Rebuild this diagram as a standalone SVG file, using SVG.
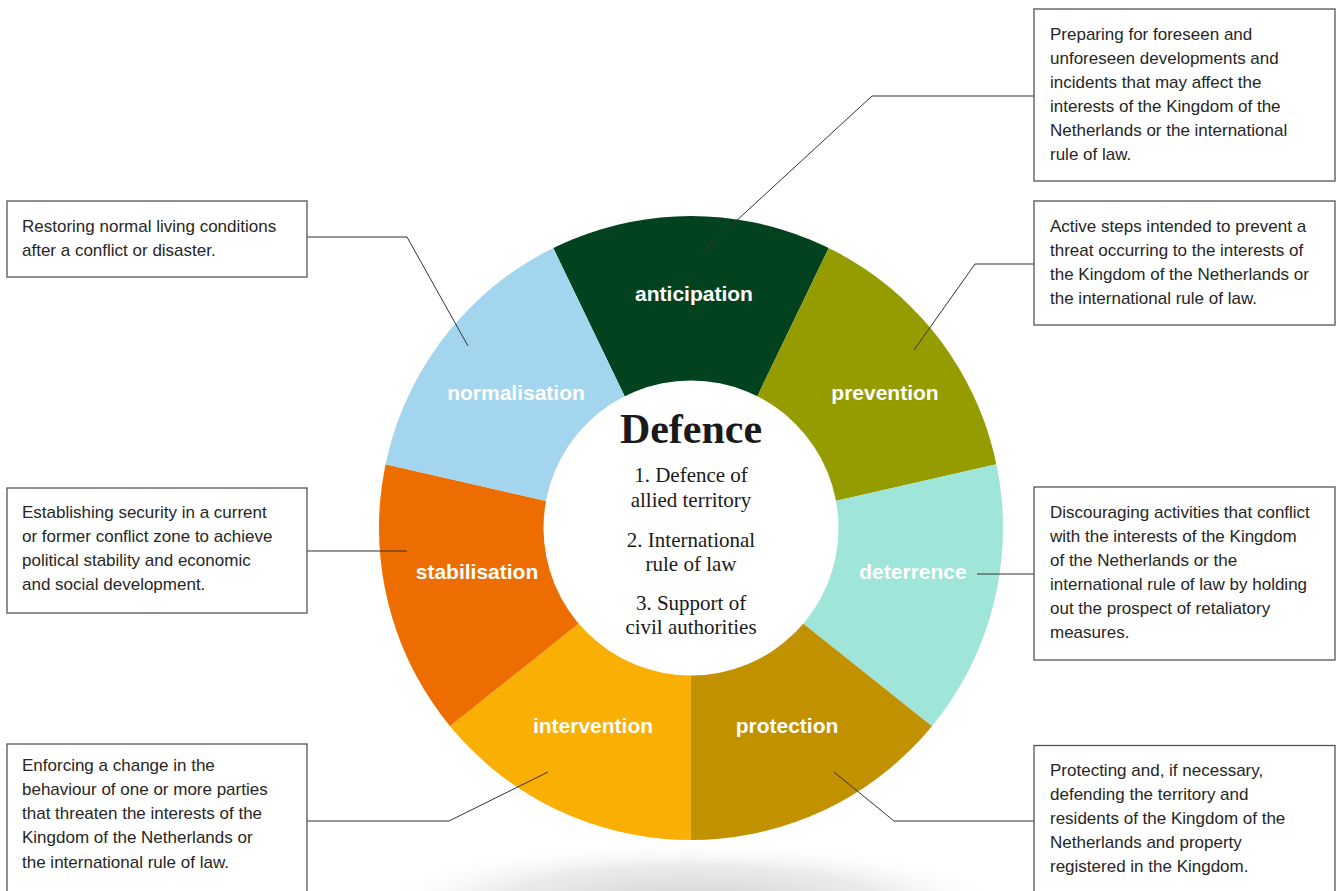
<svg xmlns="http://www.w3.org/2000/svg" width="1338" height="891" viewBox="0 0 1338 891">
<defs>
<radialGradient id="shadow" cx="0.5" cy="0.5" r="0.5">
<stop offset="0" stop-color="#cfcfcf" stop-opacity="1"/>
<stop offset="0.6" stop-color="#e6e6e6" stop-opacity="0.8"/>
<stop offset="1" stop-color="#ffffff" stop-opacity="0"/>
</radialGradient>
<clipPath id="outer"><circle cx="691" cy="528" r="312"/></clipPath>
<style>
.box{fill:#fff;stroke:#555;stroke-width:1.3}
.bt{font-family:"Liberation Sans",Arial,sans-serif;font-size:17px;fill:#262626}
.lbl{font-family:"Liberation Sans",Arial,sans-serif;font-size:21px;font-weight:bold;fill:#fff;text-anchor:middle}
.ctr{font-family:"Liberation Serif","Times New Roman",serif;fill:#1a1a1a;text-anchor:middle}
.conn{fill:none;stroke:#333;stroke-width:1}
</style>
</defs>
<rect width="1338" height="891" fill="#fff"/>
<ellipse cx="691" cy="905" rx="330" ry="65" fill="url(#shadow)"/>

<g id="wheel">
<g id="seg-anticipation"><path clip-path="url(#outer)" d="M691,534 L517.4,173.6 L864.6,173.6 Z" fill="#02421f"/><text class="lbl" x="694" y="301">anticipation</text></g>
<g id="seg-prevention"><path clip-path="url(#outer)" d="M691,534 L864.6,173.6 L1081,445 Z" fill="#959c00"/><text class="lbl" x="885" y="400">prevention</text></g>
<g id="seg-deterrence"><path clip-path="url(#outer)" d="M691,534 L1081,445 L1003.7,783.4 Z" fill="#a0e5d9"/><text class="lbl" x="913" y="579">deterrence</text></g>
<g id="seg-protection"><path clip-path="url(#outer)" d="M691,534 L1003.7,783.4 L691,934 Z" fill="#c29100"/><text class="lbl" x="787" y="733">protection</text></g>
<g id="seg-intervention"><path clip-path="url(#outer)" d="M691,534 L691,934 L378.3,783.4 Z" fill="#f9af04"/><text class="lbl" x="593" y="733">intervention</text></g>
<g id="seg-stabilisation"><path clip-path="url(#outer)" d="M691,534 L378.3,783.4 L301,445 Z" fill="#ee6d00"/><text class="lbl" x="477" y="579">stabilisation</text></g>
<g id="seg-normalisation"><path clip-path="url(#outer)" d="M691,534 L301,445 L517.4,173.6 Z" fill="#a3d6ee"/><text class="lbl" x="516" y="400">normalisation</text></g>
</g>

<g id="center">
<circle cx="691" cy="528" r="147.5" fill="#fff"/>
<text class="ctr" x="691" y="443" font-size="42" font-weight="bold">Defence</text>
<text class="ctr" x="691" y="482" font-size="21">1. Defence of</text>
<text class="ctr" x="691" y="507" font-size="21">allied territory</text>
<text class="ctr" x="691" y="547" font-size="21">2. International</text>
<text class="ctr" x="691" y="571" font-size="21">rule of law</text>
<text class="ctr" x="691" y="610" font-size="21">3. Support of</text>
<text class="ctr" x="691" y="634" font-size="21">civil authorities</text>
</g>

<g id="connectors">
<polyline class="conn" points="697,257 872,96 1034,96"/>
<polyline class="conn" points="914,350 975,264 1034,264"/>
<polyline class="conn" points="977,574 1034,574"/>
<polyline class="conn" points="834,772 894,821 1034,821"/>
<polyline class="conn" points="548,772 449,821 307,821"/>
<polyline class="conn" points="407,551 307,551"/>
<polyline class="conn" points="468,346 407,237 307,237"/>
</g>

<g id="box-anticipation">
<rect class="box" x="1034" y="9" width="301" height="172"/>
<text class="bt" x="1050" y="40">Preparing for foreseen and</text>
<text class="bt" x="1050" y="64">unforeseen developments and</text>
<text class="bt" x="1050" y="88">incidents that may affect the</text>
<text class="bt" x="1050" y="112">interests of the Kingdom of the</text>
<text class="bt" x="1050" y="136">Netherlands or the international</text>
<text class="bt" x="1050" y="160">rule of law.</text>
</g>
<g id="box-prevention">
<rect class="box" x="1034" y="201" width="301" height="124"/>
<text class="bt" x="1050" y="232">Active steps intended to prevent a</text>
<text class="bt" x="1050" y="256">threat occurring to the interests of</text>
<text class="bt" x="1050" y="280">the Kingdom of the Netherlands or</text>
<text class="bt" x="1050" y="304">the international rule of law.</text>
</g>
<g id="box-deterrence">
<rect class="box" x="1034" y="487" width="301" height="173"/>
<text class="bt" x="1050" y="518">Discouraging activities that conflict</text>
<text class="bt" x="1050" y="542">with the interests of the Kingdom</text>
<text class="bt" x="1050" y="566">of the Netherlands or the</text>
<text class="bt" x="1050" y="590">international rule of law by holding</text>
<text class="bt" x="1050" y="614">out the prospect of retaliatory</text>
<text class="bt" x="1050" y="638">measures.</text>
</g>
<g id="box-protection">
<rect class="box" x="1034" y="745.5" width="301" height="155"/>
<text class="bt" x="1050" y="776">Protecting and, if necessary,</text>
<text class="bt" x="1050" y="800">defending the territory and</text>
<text class="bt" x="1050" y="824">residents of the Kingdom of the</text>
<text class="bt" x="1050" y="848">Netherlands and property</text>
<text class="bt" x="1050" y="872">registered in the Kingdom.</text>
</g>
<g id="box-normalisation">
<rect class="box" x="7" y="201" width="300" height="76"/>
<text class="bt" x="22" y="232">Restoring normal living conditions</text>
<text class="bt" x="22" y="256">after a conflict or disaster.</text>
</g>
<g id="box-stabilisation">
<rect class="box" x="7" y="488" width="300" height="125"/>
<text class="bt" x="22" y="518">Establishing security in a current</text>
<text class="bt" x="22" y="542">or former conflict zone to achieve</text>
<text class="bt" x="22" y="566">political stability and economic</text>
<text class="bt" x="22" y="590">and social development.</text>
</g>
<g id="box-intervention">
<rect class="box" x="7" y="744" width="300" height="156"/>
<text class="bt" x="22" y="771">Enforcing a change in the</text>
<text class="bt" x="22" y="795">behaviour of one or more parties</text>
<text class="bt" x="22" y="819">that threaten the interests of the</text>
<text class="bt" x="22" y="843">Kingdom of the Netherlands or</text>
<text class="bt" x="22" y="868">the international rule of law.</text>
</g>
</svg>
